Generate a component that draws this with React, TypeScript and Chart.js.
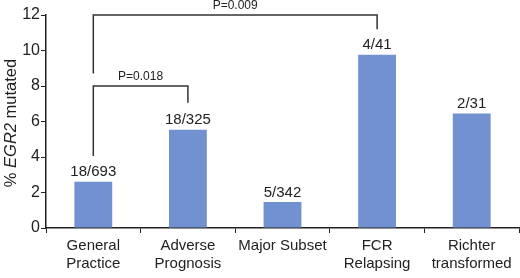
import React, { useEffect, useRef } from "react";
import { Chart, registerables } from "chart.js";

Chart.register(...registerables);

const categories: (string | string[])[] = [
  ["General", "Practice"],
  ["Adverse", "Prognosis"],
  "Major Subset",
  ["FCR", "Relapsing"],
  ["Richter", "transformed"],
];
const percentMutated = [2.6, 5.54, 1.46, 9.76, 6.45];
const countLabels = ["18/693", "18/325", "5/342", "4/41", "2/31"];
const yTicks = [0, 2, 4, 6, 8, 10, 12];

const bracketFrom = [0, 0];
const bracketTo = [3, 1];
const bracketTop = [12, 8];
const bracketLeftEnd = [8.7, 4.05];
const bracketRightEnd = [11.2, 7.05];
const bracketLabels = ["P=0.009", "P=0.018"];

const FONT = "'Liberation Sans', Arial, Helvetica, sans-serif";
const TEXT = "#222";
const LINE = "#222";

const annotations = {
  id: "annotations",
  afterDatasetsDraw(chart: any) {
    const { ctx, scales } = chart;
    const x = scales.x;
    const y = scales.y;
    ctx.save();
    // count labels
    ctx.font = `15px ${FONT}`;
    ctx.fillStyle = TEXT;
    ctx.textAlign = "center";
    ctx.textBaseline = "bottom";
    const meta = chart.getDatasetMeta(0);
    meta.data.forEach((bar: any, i: number) => {
      ctx.fillText(countLabels[i], bar.x, bar.y - 2);
    });
    // brackets
    ctx.strokeStyle = "#333";
    ctx.lineWidth = 1.5;
    for (let i = 0; i < bracketLabels.length; i++) {
      const x1 = x.getPixelForValue(bracketFrom[i]);
      const x2 = x.getPixelForValue(bracketTo[i]);
      const yt = y.getPixelForValue(bracketTop[i]);
      ctx.beginPath();
      ctx.moveTo(x1, y.getPixelForValue(bracketLeftEnd[i]));
      ctx.lineTo(x1, yt);
      ctx.lineTo(x2, yt);
      ctx.lineTo(x2, y.getPixelForValue(bracketRightEnd[i]));
      ctx.stroke();
      ctx.font = `12px ${FONT}`;
      ctx.fillStyle = TEXT;
      ctx.textAlign = "center";
      ctx.textBaseline = "bottom";
      ctx.fillText(bracketLabels[i], (x1 + x2) / 2, yt - 3);
    }
    // y axis title with italic gene name
    const cy = 123;
    ctx.translate(11, cy);
    ctx.rotate(-Math.PI / 2);
    ctx.textBaseline = "middle";
    ctx.textAlign = "left";
    const parts = [
      { t: "% ", f: `16.5px ${FONT}` },
      { t: "EGR2", f: `italic 16.5px ${FONT}` },
      { t: " mutated", f: `16.5px ${FONT}` },
    ];
    let total = 0;
    parts.forEach((p) => {
      ctx.font = p.f;
      total += ctx.measureText(p.t).width;
    });
    let pos = -total / 2;
    parts.forEach((p) => {
      ctx.font = p.f;
      ctx.fillText(p.t, pos, 0);
      pos += ctx.measureText(p.t).width;
    });
    ctx.restore();
  },
};

export default function App() {
  const ref = useRef<HTMLCanvasElement>(null);
  useEffect(() => {
    if (!ref.current) return;
    const chart = new Chart(ref.current, {
      type: "bar",
      data: {
        labels: categories,
        datasets: [
          {
            data: percentMutated,
            backgroundColor: "#7191d1",
            barPercentage: 0.4,
            categoryPercentage: 1,
          },
        ],
      },
      options: {
        animation: false,
        responsive: false,
        maintainAspectRatio: false,
        layout: { padding: { top: 15, right: 1, left: 0, bottom: 0 } },
        plugins: { legend: { display: false }, tooltip: { enabled: false } },
        scales: {
          x: {
            grid: {
              display: true,
              drawOnChartArea: false,
              drawTicks: true,
              tickLength: 5,
              color: LINE,
              offset: true,
            },
            border: { display: true, color: LINE, width: 1.5 },
            ticks: {
              color: TEXT,
              font: { size: 15, family: FONT },
              maxRotation: 0,
              autoSkip: false,
              padding: 4,
            },
            afterFit(scale: any) {
              scale.height = 50;
            },
          },
          y: {
            min: 0,
            max: 12,
            afterBuildTicks(scale: any) {
              scale.ticks = yTicks.map((v) => ({ value: v }));
            },
            grid: {
              display: true,
              drawOnChartArea: false,
              drawTicks: true,
              tickLength: 5,
              color: LINE,
            },
            border: { display: true, color: LINE, width: 1.5 },
            ticks: {
              color: TEXT,
              font: { size: 16, family: FONT },
              padding: 1,
            },
            afterFit(scale: any) {
              scale.width = 46;
            },
          },
        },
      },
      plugins: [annotations],
    });
    return () => chart.destroy();
  }, []);
  return (
    <div style={{ position: "absolute", left: 0, top: 0, width: 520, height: 278, background: "#fff" }}>
      <canvas ref={ref} width={520} height={278} style={{ width: 520, height: 278 }} />
    </div>
  );
}
